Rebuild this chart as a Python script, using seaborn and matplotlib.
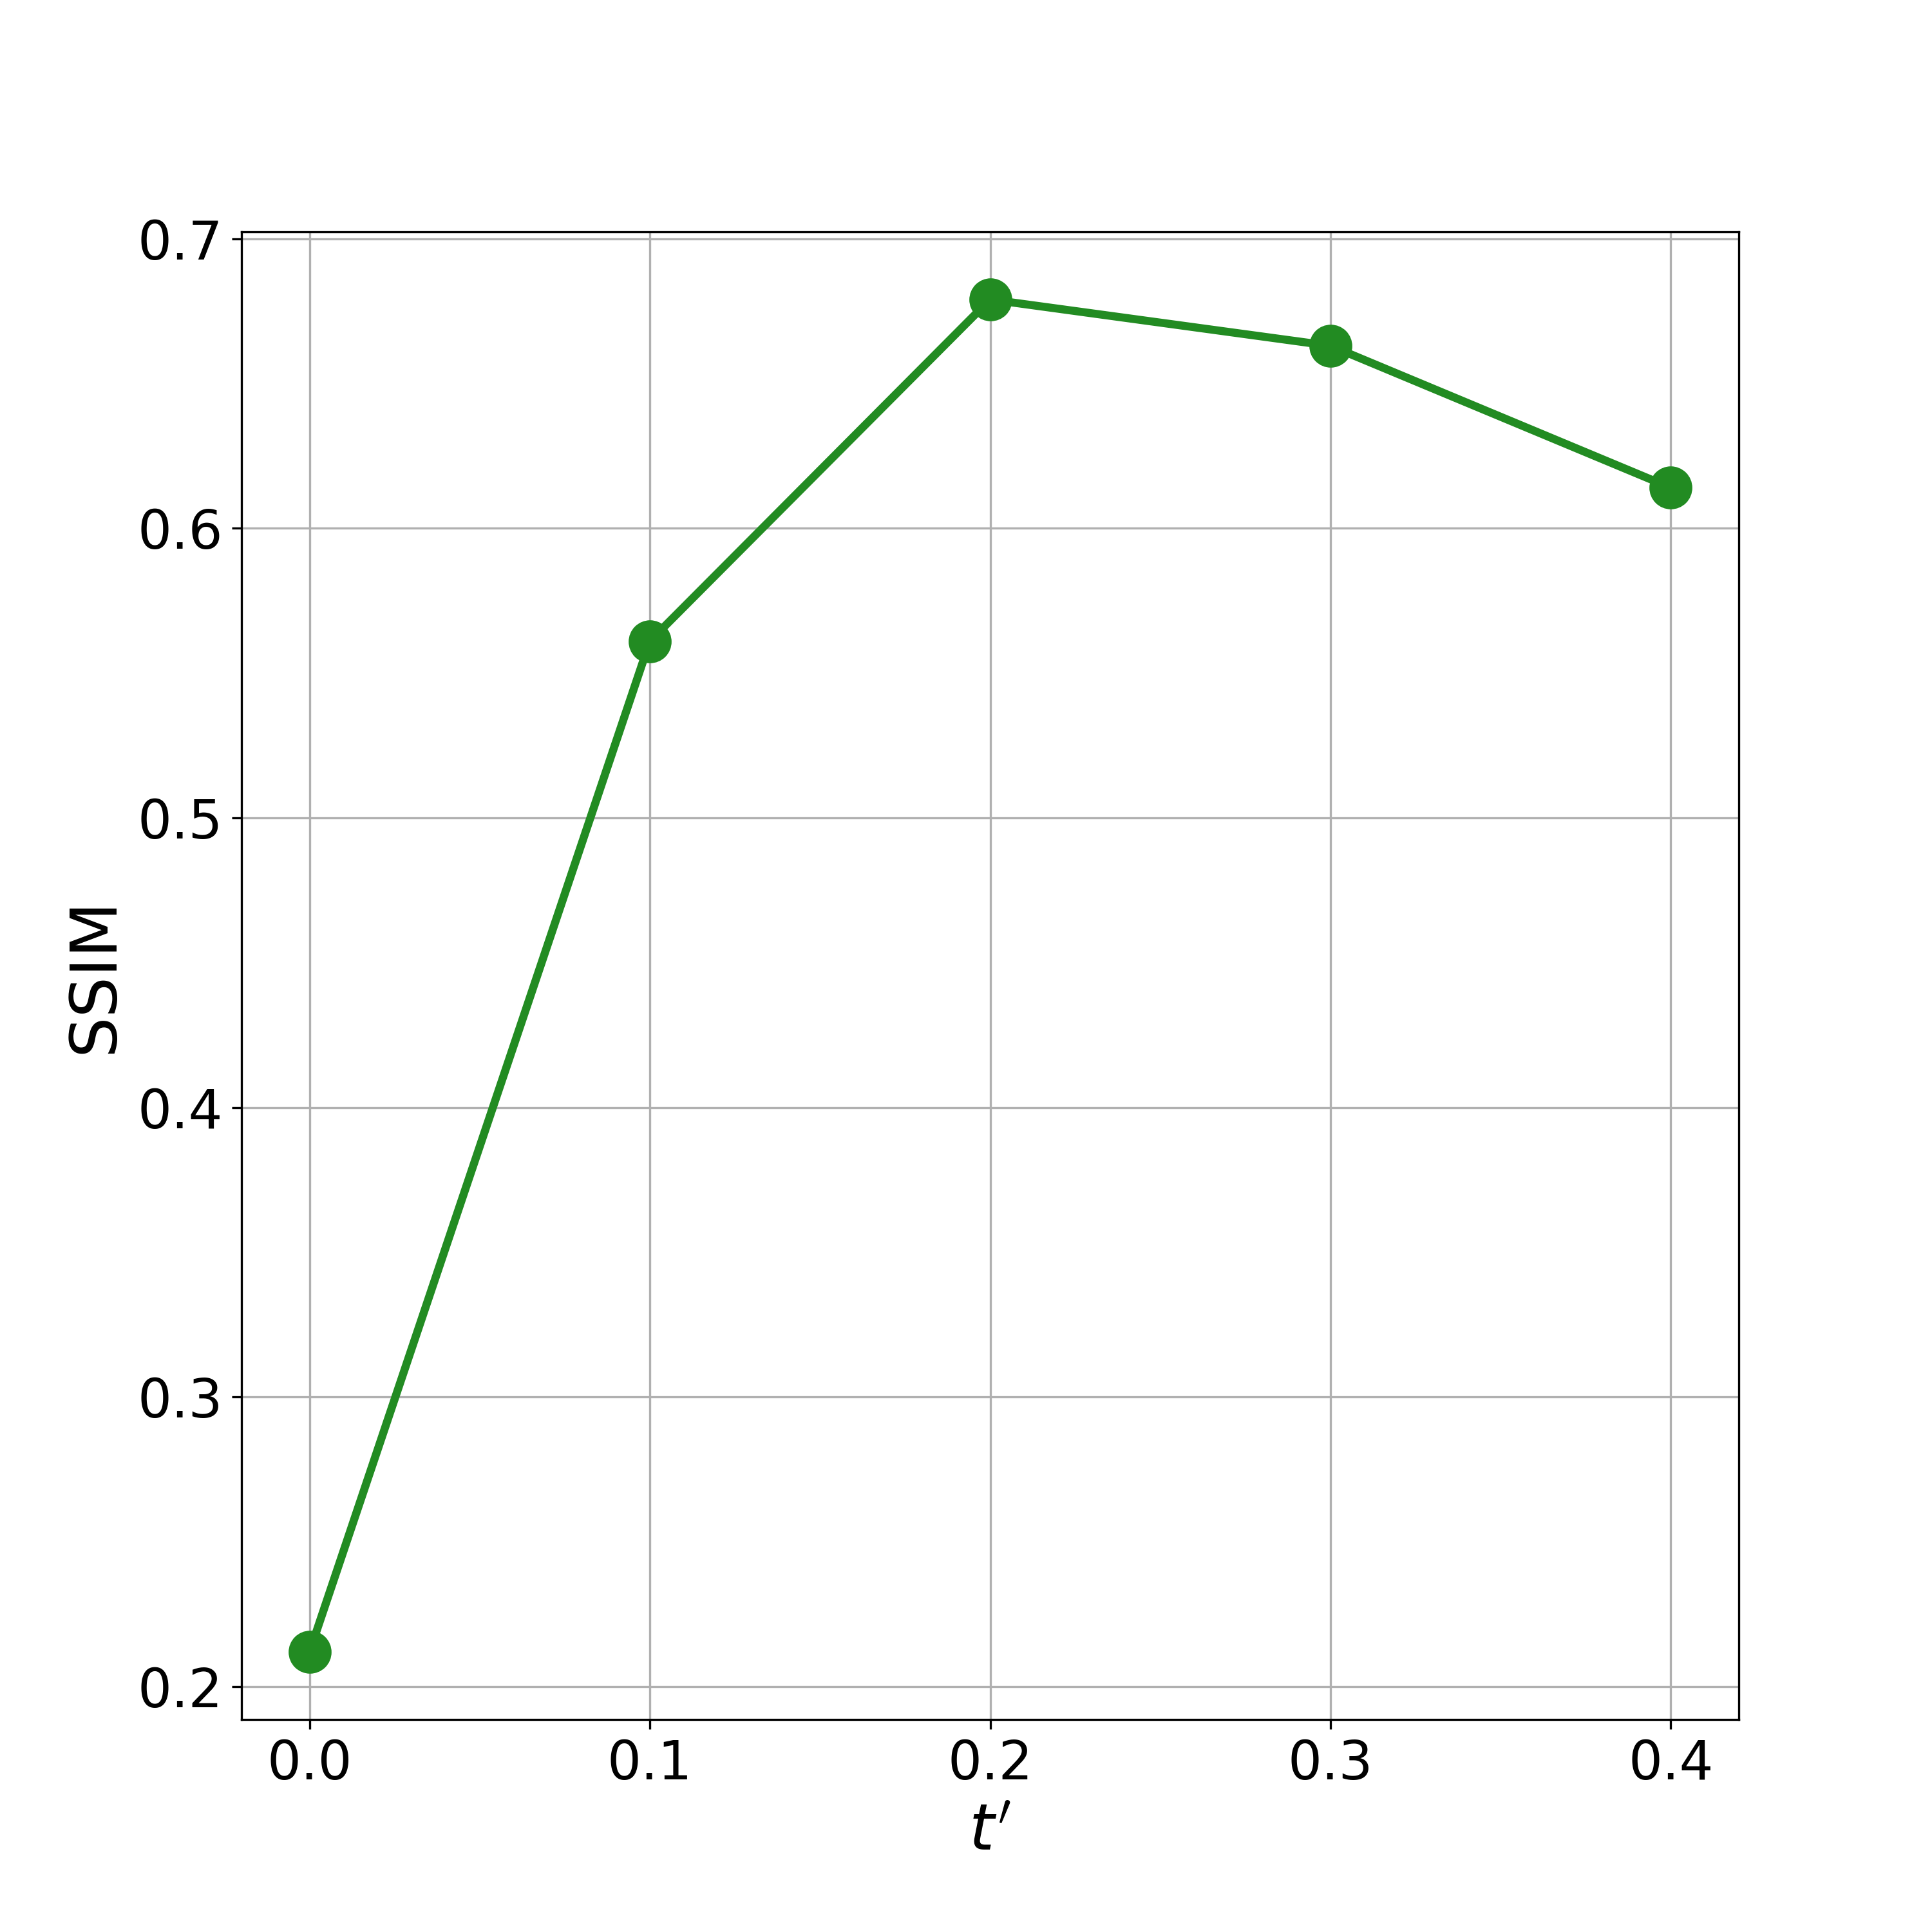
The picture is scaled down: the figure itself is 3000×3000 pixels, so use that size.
import matplotlib
matplotlib.use("Agg")
import matplotlib.pyplot as plt
import seaborn as sns
import pandas as pd

t_values = [0.0, 0.1, 0.2, 0.3, 0.4]
ssim_values = [0.212, 0.561, 0.679, 0.663, 0.614]

df = pd.DataFrame({"t": t_values, "ssim": ssim_values})

fig, ax = plt.subplots(figsize=(10, 10), dpi=300)
sns.lineplot(data=df, x="t", y="ssim", ax=ax, color="forestgreen",
             marker="o", markersize=16, linewidth=3, markeredgewidth=0)
ax.grid(True)
ax.set_axisbelow(True)
ax.set_xticks(t_values)
ax.set_yticks([0.2, 0.3, 0.4, 0.5, 0.6, 0.7])
ax.tick_params(labelsize=20)
ax.set_xlabel(r"$t'$", fontsize=24)
ax.set_ylabel("SSIM", fontsize=24)
fig.savefig("out.png", dpi=300)
